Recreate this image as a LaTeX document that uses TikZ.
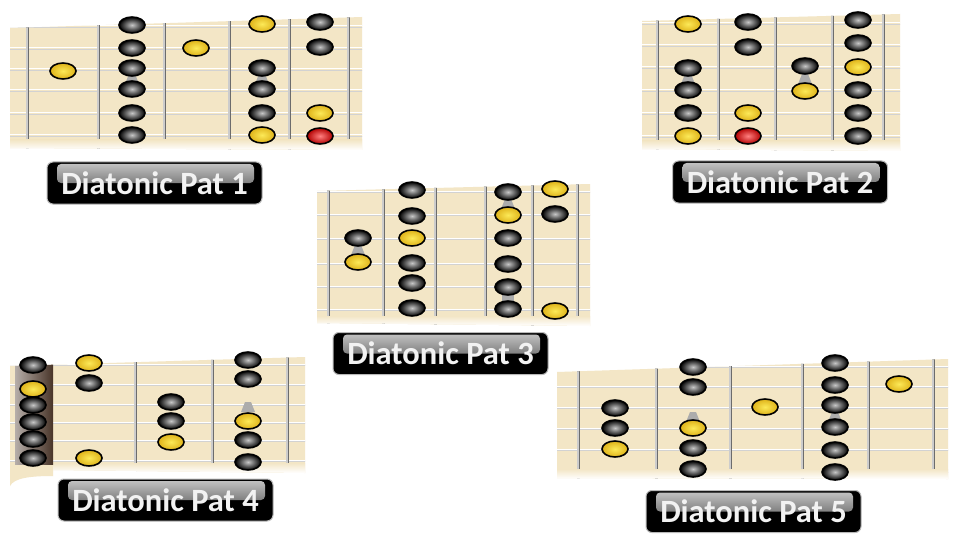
\documentclass[tikz,border=0pt]{standalone}
\usepackage{fontspec}
\setmainfont{Carlito}
\usepackage{tikz}
\usetikzlibrary{shapes,backgrounds}

\definecolor{wood}{RGB}{243,230,198}
\definecolor{gold}{RGB}{247,198,28}
\definecolor{nutbrown}{RGB}{72,52,40}

\tikzset{
	dot/.style={ellipse,draw=black,line width=1.6pt,minimum width=26pt,minimum height=16pt,inner sep=0pt},
	blkdot/.style={dot,inner color=black!22,outer color=black},
	yeldot/.style={dot,inner color=gold!55!yellow!70,outer color=gold!90!black},
	reddot/.style={dot,inner color=red!50,outer color=red!70!black},
	fret/.style={draw=gray!85!black,double=gray!40,double distance=1.4pt,line width=0.8pt},
	strg/.style={white,line width=1pt},
	strgshadow/.style={gray!35,line width=0.6pt},
	inlay/.style={fill=gray!65},
	patlabel/.style={fill=black,draw=gray!55,line width=1pt,rounded corners=6pt,minimum width=215pt,minimum height=42pt,inner sep=0pt,
		text=white!95!black,font=\fontsize{32.5}{32.5}\bfseries\selectfont,
		path picture={\shade[top color=black!22,bottom color=black!78,rounded corners=4pt]
			([xshift=10pt,yshift=-2pt]path picture bounding box.north west) rectangle
			([xshift=-8pt,yshift=-21pt]path picture bounding box.north east);}}
}

\begin{document}
\begin{tikzpicture}[x=1pt,y=-1pt]
	\useasboundingbox (0,0) rectangle (960,540);
	\fill[white] (0,0) rectangle (960,540);

	% pattern 1
	\begin{scope}
		\clip (10,28) -- (362,17) -- (362,150) -- (10,148) -- cycle;
		\fill[wood] (0,0) rectangle (370,160);
		\foreach \y in {26,48,69,90,113,135} {
			\draw[strgshadow] (0,\y+1.2) -- (370,\y+1.2);
			\draw[strg] (0,\y) -- (370,\y);
		}
		\foreach \x in {27,98,164,229,289,348} \draw[fret] (\x,0) -- (\x,160);
		\shade[top color=wood,bottom color=white] (0,140) rectangle (370,150);
	\end{scope}
	\foreach \x/\y in {132/79,262/79} \fill[inlay] (\x-7,\y+5) -- (\x+7,\y+5) -- (\x+3,\y-5) -- (\x-3,\y-5) -- cycle;
	\foreach \x/\y/\s [count=\i] in {63/71/yeldot,132/25/blkdot,132/48/blkdot,132/68/blkdot,132/89/blkdot,132/113/blkdot,132/135/blkdot,
		196/48/yeldot,262/24/yeldot,262/68/blkdot,262/89/blkdot,262/113/blkdot,262/135/yeldot,
		320/22/blkdot,320/47/blkdot,320/113/yeldot,320/136/reddot}
		\node[\s] (one-\i) at (\x,\y) {};
	\draw (154.5,183) node[patlabel] (lab1) {Diatonic Pat 1};

	% pattern 2
	\begin{scope}
		\clip (642,21) -- (900,14) -- (900,151) -- (642,149) -- cycle;
		\fill[wood] (630,0) rectangle (910,160);
		\foreach \y in {23,45,67,90,113,136} {
			\draw[strgshadow] (630,\y+1.2) -- (910,\y+1.2);
			\draw[strg] (630,\y) -- (910,\y);
		}
		\foreach \x in {657,718,775,832,883} \draw[fret] (\x,0) -- (\x,160);
		\shade[top color=wood,bottom color=white] (630,141) rectangle (910,151);
	\end{scope}
	\foreach \x/\y in {688/79,805/79} \fill[inlay] (\x-7,\y+5) -- (\x+7,\y+5) -- (\x+3,\y-5) -- (\x-3,\y-5) -- cycle;
	\foreach \x/\y/\s [count=\i] in {688/24/yeldot,688/68/blkdot,688/90/blkdot,688/113/blkdot,688/136/yeldot,
		748/22/blkdot,748/47/blkdot,748/113/yeldot,748/136/reddot,805/66/blkdot,805/91/yeldot,
		858/20/blkdot,858/43/blkdot,858/67/yeldot,858/90/blkdot,858/113/blkdot,858/136/blkdot}
		\node[\s] (two-\i) at (\x,\y) {};
	\draw (780,182) node[patlabel] (lab2) {Diatonic Pat 2};

	% pattern 3
	\begin{scope}
		\clip (317,191) -- (590,184) -- (590,326) -- (317,323) -- cycle;
		\fill[wood] (310,175) rectangle (600,335);
		\foreach \y in {191,214,238,263,286,309} {
			\draw[strgshadow] (310,\y+1.2) -- (600,\y+1.2);
			\draw[strg] (310,\y) -- (600,\y);
		}
		\foreach \x in {328,383,435,485,532,577} \draw[fret] (\x,175) -- (\x,335);
		\shade[top color=wood,bottom color=white] (310,316) rectangle (600,326);
	\end{scope}
	\foreach \x/\y in {358/250,508/204} \fill[inlay] (\x-7,\y+5) -- (\x+7,\y+5) -- (\x+3,\y-5) -- (\x-3,\y-5) -- cycle;
	\fill[inlay] (502,287) rectangle (514,309);
	\foreach \x/\y/\s [count=\i] in {358/238/blkdot,358/262/yeldot,
		412/190/blkdot,412/216/blkdot,412/238/yeldot,412/263/blkdot,412/283/blkdot,412/308/blkdot,
		508/192/blkdot,508/215/yeldot,508/238/blkdot,508/264/blkdot,508/287/blkdot,508/309/blkdot,
		555/189/yeldot,555/214/blkdot,555/311/yeldot}
		\node[\s] (three-\i) at (\x,\y) {};
	\draw (440.5,353.5) node[patlabel] (lab3) {Diatonic Pat 3};

	% pattern 4
	\begin{scope}
		\clip (10,366) -- (305,357) -- (305,473) -- (53,470) -- (53,476) .. controls (30,476) and (14,478) .. (10,486) -- cycle;
		\fill[wood] (0,340) rectangle (320,490);
		\foreach \y in {364,384,404,422,440,460} {
			\draw[strgshadow] (0,\y+1.2) -- (320,\y+1.2);
			\draw[strg] (0,\y) -- (320,\y);
		}
		\foreach \x in {135,212,287} \draw[fret] (\x,340) -- (\x,490);
		\shade[top color=wood,bottom color=white] (53,463) rectangle (320,473);
		\shade[left color=nutbrown!40,right color=nutbrown] (15,362) rectangle (53,464);
	\end{scope}
	\fill[inlay] (241,412) -- (255,412) -- (251,402) -- (245,402) -- cycle;
	\foreach \x/\y/\s [count=\i] in {33/365/blkdot,33/389/yeldot,33/405/blkdot,33/422/blkdot,33/439/blkdot,33/458/blkdot,
		89/363/yeldot,89/383/blkdot,89/458/yeldot,171/402/blkdot,171/421/blkdot,171/442/yeldot,
		248/360/blkdot,248/379/blkdot,248/421/yeldot,248/440/blkdot,248/462/blkdot}
		\node[\s] (four-\i) at (\x,\y) {};
	\draw (165.5,500) node[patlabel] (lab4) {Diatonic Pat 4};

	% pattern 5
	\begin{scope}
		\clip (557,372) -- (948,359) -- (948,479) -- (557,478) -- cycle;
		\fill[wood] (550,345) rectangle (955,490);
		\foreach \y in {366,386,407,428,449,471} {
			\draw[strgshadow] (550,\y+1.2) -- (955,\y+1.2);
			\draw[strg] (550,\y) -- (955,\y);
		}
		\foreach \x in {578,656,730,802,868,933} \draw[fret] (\x,345) -- (\x,490);
		\shade[top color=wood,bottom color=white] (550,469) rectangle (955,479);
	\end{scope}
	\foreach \x/\y in {693/417,835/417} \fill[inlay] (\x-7,\y+5) -- (\x+7,\y+5) -- (\x+3,\y-5) -- (\x-3,\y-5) -- cycle;
	\foreach \x/\y/\s [count=\i] in {615/408/blkdot,615/428/blkdot,615/449/yeldot,
		693/367/blkdot,693/387/blkdot,693/428/yeldot,693/448/blkdot,693/469/blkdot,765/407/yeldot,
		835/363/blkdot,835/385/blkdot,835/405/blkdot,835/427/blkdot,835/450/blkdot,835/472/blkdot,899/384/yeldot}
		\node[\s] (five-\i) at (\x,\y) {};
	\draw (753.5,511.5) node[patlabel] (lab5) {Diatonic Pat 5};
\end{tikzpicture}
\end{document}
